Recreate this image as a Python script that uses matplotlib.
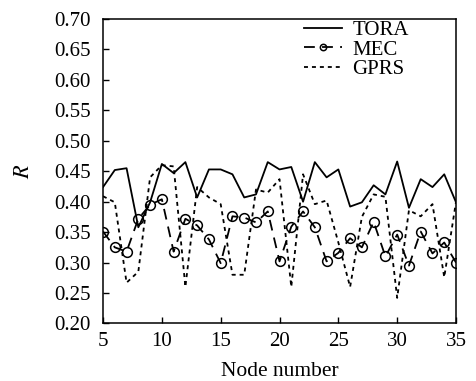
import matplotlib
matplotlib.use("Agg")
import matplotlib.pyplot as plt
from matplotlib.ticker import FormatStrFormatter

nodes = list(range(5, 36))
tora = [0.424, 0.452, 0.455, 0.358, 0.399, 0.462, 0.447, 0.465, 0.407, 0.453,
        0.453, 0.445, 0.407, 0.412, 0.465, 0.453, 0.457, 0.400, 0.465, 0.440,
        0.453, 0.392, 0.399, 0.427, 0.412, 0.466, 0.390, 0.437, 0.424, 0.445, 0.399]
mec = [0.351, 0.325, 0.318, 0.372, 0.395, 0.404, 0.318, 0.372, 0.361, 0.338,
       0.299, 0.376, 0.374, 0.366, 0.384, 0.302, 0.359, 0.384, 0.358, 0.302,
       0.316, 0.340, 0.325, 0.367, 0.310, 0.346, 0.295, 0.351, 0.315, 0.333, 0.300]
gprs = [0.409, 0.399, 0.267, 0.285, 0.440, 0.460, 0.458, 0.260, 0.424, 0.407,
        0.396, 0.280, 0.280, 0.420, 0.415, 0.437, 0.260, 0.445, 0.396, 0.402,
        0.333, 0.260, 0.375, 0.412, 0.408, 0.242, 0.386, 0.376, 0.396, 0.276, 0.400]
xticks = [5, 10, 15, 20, 25, 30, 35]
yticks = [0.20, 0.25, 0.30, 0.35, 0.40, 0.45, 0.50, 0.55, 0.60, 0.65, 0.70]

plt.rcParams['font.family'] = ['Liberation Serif', 'DejaVu Serif']
plt.rcParams['mathtext.fontset'] = 'stix'

fig = plt.figure(figsize=(4.77, 3.81), dpi=100)
ax = fig.add_axes([0.216, 0.151, 0.740, 0.799])

ax.plot(nodes, tora, color='black', lw=1.3, linestyle='-', label='TORA')
ax.plot(nodes, mec, color='black', lw=1.3, linestyle=(0, (6, 4)), marker='o',
        markersize=7, markerfacecolor='none', markeredgewidth=1.1, label='MEC')
ax.plot(nodes, gprs, color='black', lw=1.3, linestyle=(0, (2.2, 2.2)), label='GPRS')

ax.set_xlim(5, 35)
ax.set_ylim(0.20, 0.70)
ax.set_xticks(xticks)
ax.set_yticks(yticks)
ax.yaxis.set_major_formatter(FormatStrFormatter('%.2f'))
ax.tick_params(direction='in', length=4, width=1, labelsize=15, top=False, right=False)
ax.tick_params(axis='y', pad=9)
ax.tick_params(axis='x', pad=6)
for s in ax.spines.values():
    s.set_linewidth(1.1)

ax.set_xlabel('Node number', fontsize=15.5, labelpad=8)
ax.set_ylabel('$R$', fontsize=16, labelpad=14)

leg = ax.legend(loc='upper right', frameon=False, fontsize=15, handlelength=1.8,
                labelspacing=0.0, borderpad=0, borderaxespad=0, handletextpad=0.5,
                markerscale=0.65, bbox_to_anchor=(0.866, 0.995))

fig.savefig('out.png', dpi=100)
